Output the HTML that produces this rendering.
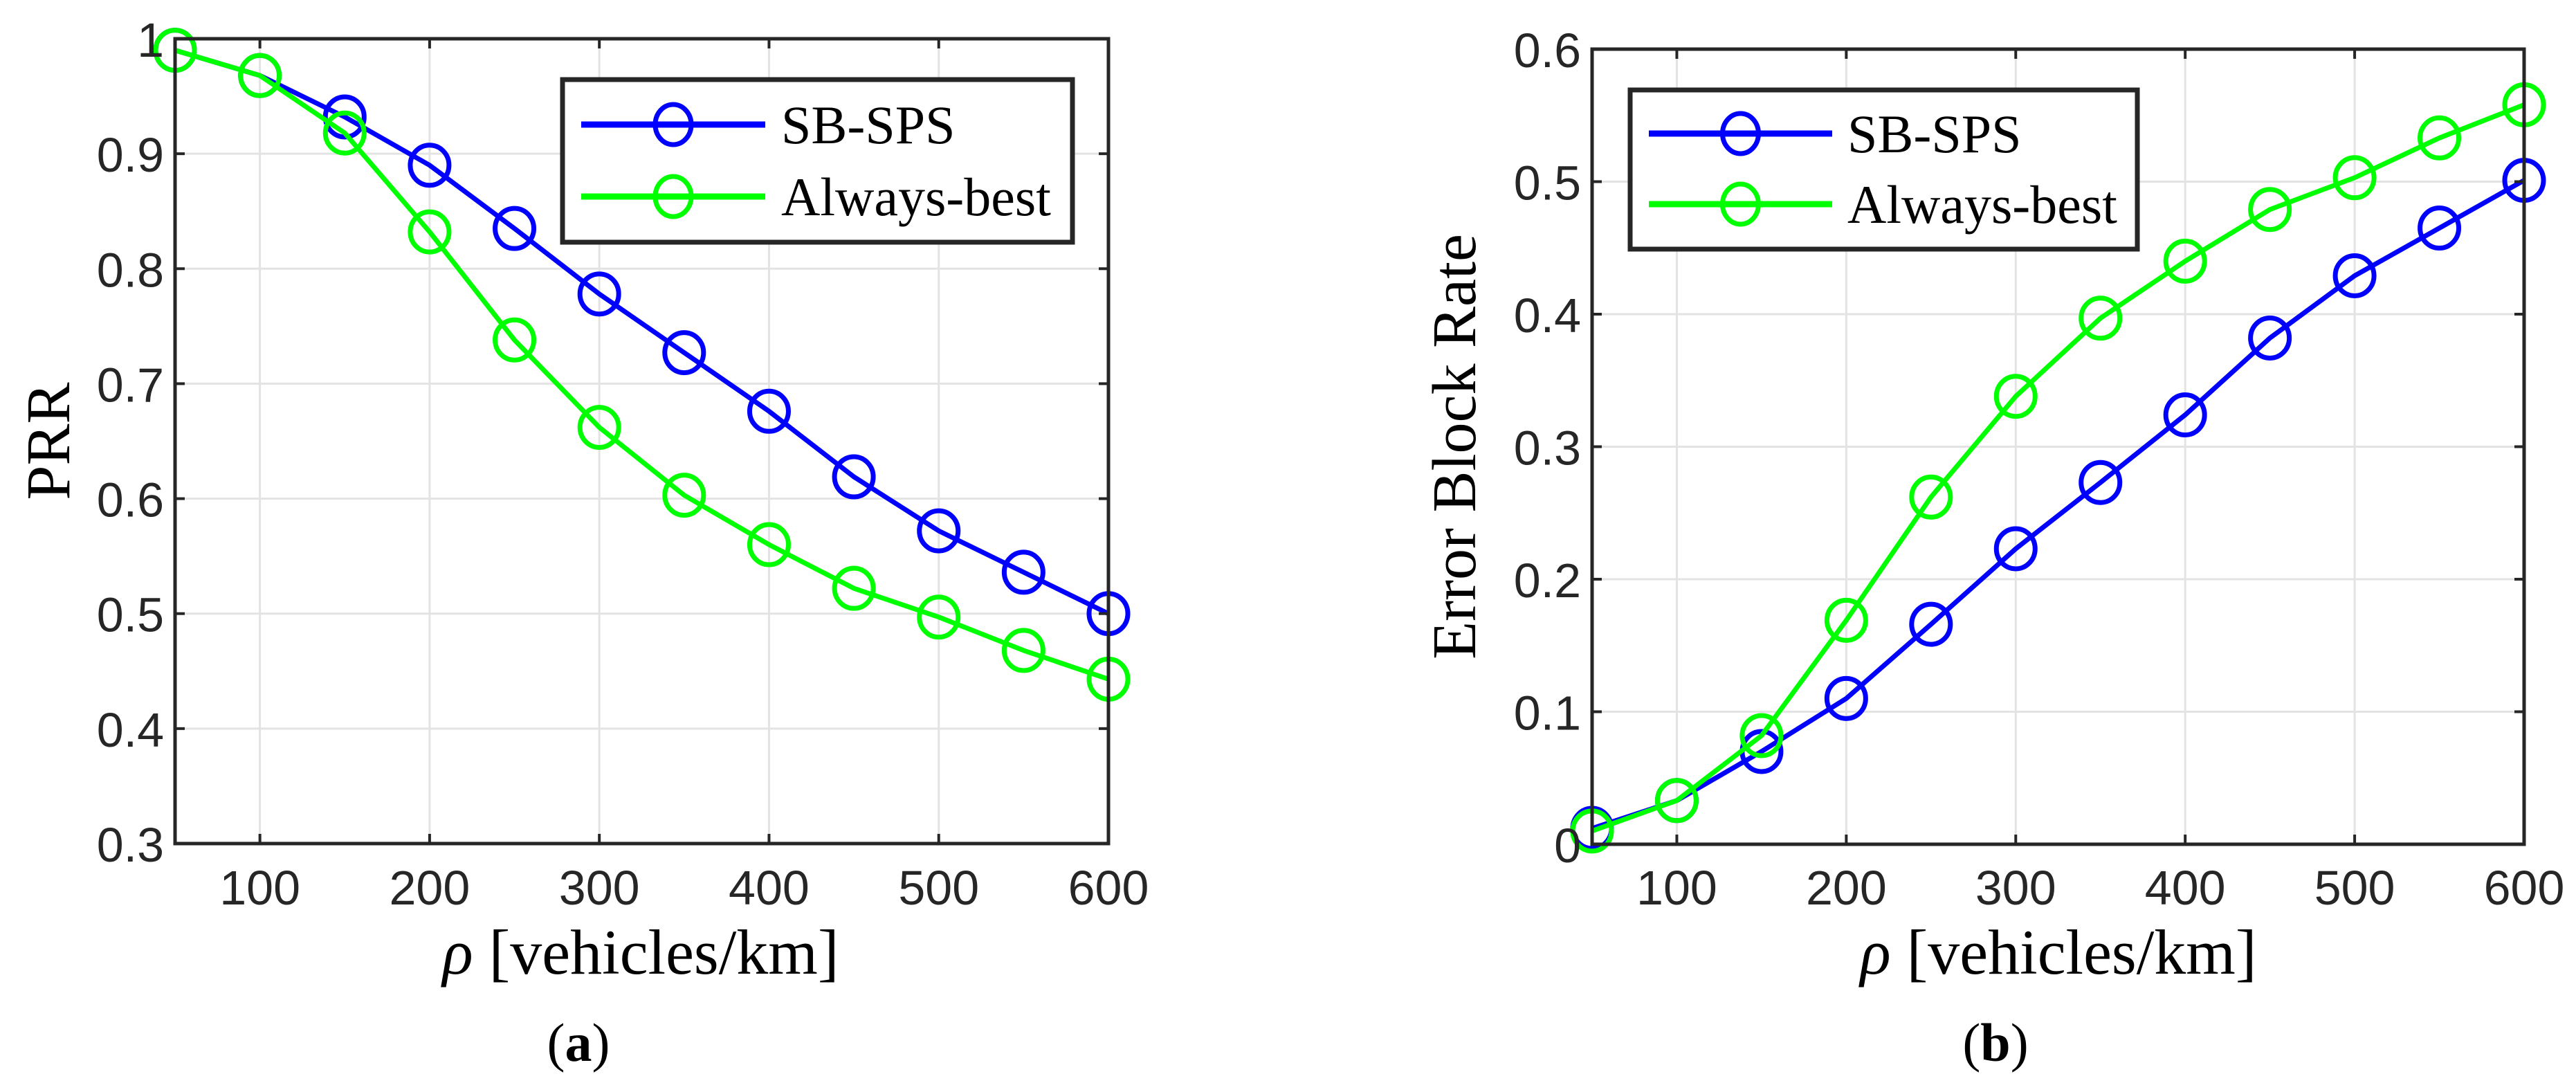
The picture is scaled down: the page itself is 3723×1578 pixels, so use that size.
<!DOCTYPE html>
<html><head><meta charset="utf-8"><style>
html,body{margin:0;padding:0;background:#fff;}
svg{display:block;}
.tick{font-family:"Liberation Sans",sans-serif;font-size:70px;fill:#262626;}
.ser{font-family:"Liberation Serif",serif;fill:#000;}
</style></head><body>
<svg id="fig" width="3723" height="1578" viewBox="0 0 3723 1578" xmlns="http://www.w3.org/2000/svg"></svg>
<script>
const xValues = [50,100,150,200,250,300,350,400,450,500,550,600];
const xTicks = [100,200,300,400,500,600];
const prrSB = [0.99,0.968,0.932,0.89,0.835,0.778,0.727,0.676,0.619,0.572,0.536,0.5];
const prrAB = [0.99,0.968,0.918,0.832,0.738,0.662,0.603,0.56,0.522,0.497,0.468,0.443];
const prrTicks = [0.3,0.4,0.5,0.6,0.7,0.8,0.9,1];
const prrTickLabels = ["0.3","0.4","0.5","0.6","0.7","0.8","0.9","1"];
const ebrSB = [0.012,0.033,0.07,0.11,0.166,0.223,0.273,0.324,0.382,0.429,0.465,0.501];
const ebrAB = [0.01,0.033,0.082,0.169,0.262,0.338,0.397,0.44,0.479,0.503,0.533,0.558];
const ebrTicks = [0,0.1,0.2,0.3,0.4,0.5,0.6];
const ebrTickLabels = ["0","0.1","0.2","0.3","0.4","0.5","0.6"];
const seriesNames = ["SB-SPS","Always-best"];

const NS="http://www.w3.org/2000/svg";
const svg=document.getElementById('fig');
function mk(tag,attrs,parent){const e=document.createElementNS(NS,tag);for(const k in attrs)e.setAttribute(k,attrs[k]);(parent||svg).appendChild(e);return e;}

function panel(p){
  const g=mk('g',{});
  
  
  const xs=v=>p.x0+(v-50)/550*(p.x1-p.x0);
  const ys=v=>p.y1-(v-p.ymin)/(p.ymax-p.ymin)*(p.y1-p.y0);
  xTicks.forEach(t=>{const l=mk('line',{x1:xs(t),x2:xs(t),y1:p.y0,y2:p.y1,stroke:'#e3e3e3','stroke-width':3},g);
    });
  p.ticks.forEach(t=>{const l=mk('line',{x1:p.x0,x2:p.x1,y1:ys(t),y2:ys(t),stroke:'#e3e3e3','stroke-width':3},g);
    });
  const cols=['#0000ff','#00ff00'];
  p.series.forEach((s,i)=>{
    const pts=s.map((v,j)=>xs(xValues[j])+','+ys(v)).join(' ');
    const pl=mk('polyline',{points:pts,fill:'none',stroke:cols[i],'stroke-width':7,'stroke-linejoin':'round'},g);
    
    
    s.forEach((v,j)=>{const c=mk('ellipse',{cx:xs(xValues[j]),cy:ys(v),rx:28,ry:29,fill:'none',stroke:cols[i],'stroke-width':7},g);
      
      });
  });
  const fr=mk('rect',{x:p.x0,y:p.y0,width:p.x1-p.x0,height:p.y1-p.y0,fill:'none',stroke:'#262626','stroke-width':5},g);
  
  xTicks.forEach(t=>{
    mk('line',{x1:xs(t),x2:xs(t),y1:p.y1,y2:p.y1-14,stroke:'#262626','stroke-width':4},g);
    mk('line',{x1:xs(t),x2:xs(t),y1:p.y0,y2:p.y0+14,stroke:'#262626','stroke-width':4},g);
    const tx=mk('text',{x:xs(t),y:1307,'text-anchor':'middle',class:'tick'},g);tx.textContent=t;
    
  });
  p.ticks.forEach((t,i)=>{
    mk('line',{x1:p.x0,x2:p.x0+14,y1:ys(t),y2:ys(t),stroke:'#262626','stroke-width':4},g);
    mk('line',{x1:p.x1,x2:p.x1-14,y1:ys(t),y2:ys(t),stroke:'#262626','stroke-width':4},g);
    const tx=mk('text',{x:p.x0-16,y:ys(t)+26,'text-anchor':'end',class:'tick'},g);tx.textContent=p.tickLabels[i];
    
  });
  const L=p.leg;
  const lb=mk('rect',{x:L.x,y:L.y,width:L.w,height:L.h,fill:'#fff',stroke:'#262626','stroke-width':7},g);
  
  seriesNames.forEach((n,i)=>{
    const yy=L.rows[i];
    mk('line',{x1:L.lx0,x2:L.lx1,y1:yy,y2:yy,stroke:cols[i],'stroke-width':9},g);
    mk('ellipse',{cx:(L.lx0+L.lx1)/2,cy:yy,rx:26,ry:29,fill:'none',stroke:cols[i],'stroke-width':7},g);
    const tx=mk('text',{x:L.tx,y:yy+27,class:'ser','font-size':78},g);tx.textContent=n;
    
  });
  const xl=mk('text',{x:p.xlx,y:1407,'text-anchor':'middle',class:'ser','font-size':92},g);
  xl.innerHTML='<tspan font-style="italic">ρ</tspan> [vehicles/km]';
  
  const yl=mk('text',{x:0,y:0,'text-anchor':'middle',class:'ser','font-size':90,transform:`translate(${p.ylx},${(p.y0+p.y1)/2}) rotate(-90)`},g);
  yl.textContent=p.ytitle;
  
  const cap=mk('text',{x:p.capx,y:1533,'text-anchor':'middle',class:'ser','font-size':78},g);
  cap.innerHTML='(<tspan font-weight="bold">'+p.cap+'</tspan>)';
  
}
panel({name:'prr-chart',x0:253,x1:1602,y0:56,y1:1219,ymin:0.3,ymax:1,ticks:prrTicks,tickLabels:prrTickLabels,
  series:[prrSB,prrAB],ytitle:'PRR',ylx:100,xlx:926,capx:836,cap:'a',
  leg:{x:813,y:115,w:737,h:235,rows:[180,284],lx0:840,lx1:1106,tx:1129}});
panel({name:'error-block-rate-chart',x0:2301,x1:3648,y0:71,y1:1220,ymin:0,ymax:0.6,ticks:ebrTicks,tickLabels:ebrTickLabels,
  series:[ebrSB,ebrAB],ytitle:'Error Block Rate',ylx:2132,xlx:2975,capx:2884,cap:'b',
  leg:{x:2356,y:130,w:733,h:230,rows:[193,295],lx0:2383,lx1:2648,tx:2670}});
</script>
</body></html>
